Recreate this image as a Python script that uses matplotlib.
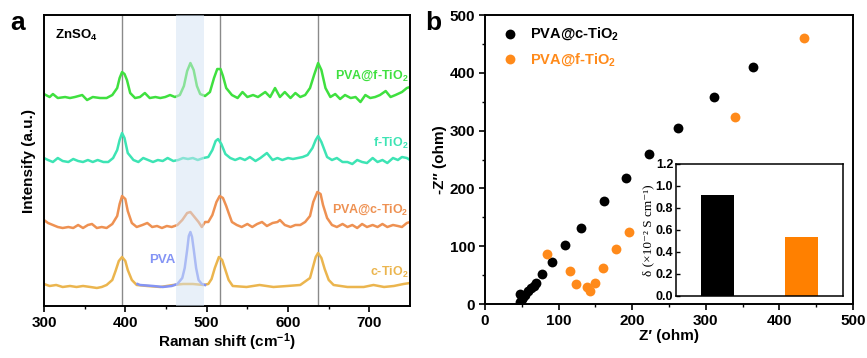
import matplotlib
matplotlib.use("Agg")
import matplotlib.pyplot as plt
import numpy as np

plt.rcParams['font.family'] = ['Liberation Sans', 'DejaVu Sans']
plt.rcParams['font.weight'] = 'bold'
plt.rcParams['mathtext.fontset'] = 'custom'
plt.rcParams['mathtext.rm'] = 'Liberation Sans:bold'
plt.rcParams['mathtext.bf'] = 'Liberation Sans:bold'
plt.rcParams['mathtext.it'] = 'Liberation Sans:bold'
plt.rcParams['mathtext.default'] = 'bf'

# ---------------- Panel a: Raman spectra (intensity in arbitrary units) ----------------
pvaf_shift = [300, 307, 311, 317, 326, 332, 338, 347, 353, 360, 369, 377, 384, 390, 393, 396, 399, 402,
              406, 412, 418, 424, 430, 437, 443, 449, 455, 461, 467, 472, 476, 480, 484, 488, 492, 498,
              504, 509, 513, 517, 520, 524, 531, 538, 544, 550, 557, 563, 572, 578, 584, 590, 596, 603, 609,
              615, 621, 627, 632, 637, 641, 646, 652, 658, 664, 670, 677, 683, 689, 695, 701, 707, 713,
              720, 726, 732, 740, 746, 750]
pvaf_int = [212, 209, 212, 208, 209, 208, 209, 211, 206, 209, 208, 208, 211, 218, 228, 234, 232, 226,
            213, 208, 209, 213, 208, 209, 208, 209, 211, 209, 211, 220, 235, 243, 236, 220, 212, 210,
            214, 228, 237, 237, 230, 218, 211, 208, 214, 209, 211, 209, 214, 209, 218, 209, 214, 208, 213,
            209, 211, 218, 231, 243, 236, 218, 209, 212, 207, 211, 208, 209, 204, 211, 208, 209, 211,
            215, 209, 211, 214, 218, 219]

f_shift = [300, 305, 311, 317, 323, 330, 336, 342, 348, 354, 360, 366, 373, 379, 385, 390, 393, 396, 399,
           403, 410, 416, 422, 428, 434, 440, 446, 452, 459, 465, 471, 477, 483, 489, 496, 502, 507,
           511, 514, 518, 523, 529, 535, 541, 547, 553, 560, 566, 574, 581, 587, 593, 600, 606, 612, 618,
           624, 630, 634, 637, 641, 648, 654, 660, 667, 673, 679, 685, 691, 697, 704, 710, 716, 722, 729,
           735, 740, 746, 750]
f_int = [148, 146, 144, 148, 145, 144, 147, 145, 144, 146, 144, 146, 144, 144, 148, 156, 166, 173, 168,
         153, 146, 144, 148, 146, 144, 146, 145, 148, 145, 146, 148, 147, 148, 146, 148, 149, 156,
         165, 167, 162, 152, 148, 146, 148, 146, 149, 145, 148, 153, 146, 148, 146, 148, 147, 148, 149,
         151, 158, 166, 170, 164, 149, 146, 148, 144, 144, 142, 146, 144, 143, 148, 144, 146, 143, 148,
         146, 149, 148, 146]

pvac_shift = [300, 305, 311, 317, 323, 330, 336, 342, 348, 354, 359, 365, 371, 377, 384, 390, 393, 396, 400,
              403, 408, 414, 421, 427, 433, 439, 445, 451, 457, 464, 470, 476, 480, 484, 490, 494, 498,
              502, 507, 512, 516, 520, 524, 527, 531, 537, 543, 550, 556, 562, 568, 574, 581, 587, 590, 596,
              603, 609, 615, 621, 627, 631, 636, 640, 643, 648, 654, 660, 667, 673, 679, 685, 691, 697,
              704, 710, 716, 722, 729, 735, 740, 746, 750]
pvac_int = [86, 83, 81, 79, 78, 79, 78, 81, 78, 81, 82, 78, 79, 78, 82, 90, 102, 110, 107,
            95, 83, 79, 81, 83, 79, 80, 78, 80, 79, 81, 86, 93, 94, 90, 84, 79, 84,
            84, 91, 104, 110, 108, 100, 93, 84, 81, 79, 82, 79, 82, 84, 80, 83, 84, 86, 81,
            79, 81, 81, 84, 90, 104, 114, 112, 101, 88, 81, 79, 82, 79, 81, 78, 82, 79,
            81, 79, 82, 79, 81, 80, 79, 83, 84]

c_shift = [300, 307, 315, 323, 332, 340, 348, 357, 365, 371, 377, 384, 388, 392, 396, 400, 403, 408, 414,
           427, 443, 459, 471, 483, 496, 502, 506, 510, 515, 519, 523, 527, 532, 549, 565, 582, 599, 615,
           627, 631, 634, 637, 641, 645, 650, 656, 673, 693, 705, 718, 730, 742, 750]
c_int = [22, 20, 21, 19, 20, 19, 20, 19, 18, 19, 21, 26, 35, 45, 49, 45, 36, 26, 21,
         20, 19, 21, 22, 22, 21, 22, 27, 38, 49, 46, 36, 26, 20, 19, 21, 19, 20, 21,
         28, 40, 49, 53, 48, 37, 26, 21, 19, 19, 21, 19, 20, 22, 23]

pva_shift = [415, 418, 434, 446, 457, 464, 470, 473, 476, 478, 480, 482, 484, 487, 490, 494, 498]
pva_int = [22, 21, 20, 19, 20, 22, 28, 38, 56, 70, 74, 69, 57, 38, 26, 22, 21]

ref_lines = [396, 516, 637]
band = [462, 497]

# ---------------- Panel b: Nyquist plots ----------------
c_zre = [47, 48, 50, 52, 55, 58, 62, 66, 69, 77, 91, 109, 130, 161, 191, 223, 262, 311, 364]
c_zim = [18, 3, 8, 12, 16, 22, 27, 32, 36, 52, 73, 102, 132, 179, 218, 259, 305, 359, 410]
f_zre = [84, 116, 123, 138, 142, 150, 160, 178, 195, 340, 434]
f_zim = [87, 57, 35, 29, 22, 36, 62, 96, 124, 323, 461]

conductivity = [0.92, 0.54]

# ---------------- colours ----------------
green = '#3FE03F'
teal = '#3DE4B4'
orange_l = '#EE9152'
gold = '#EBB54E'
blue = '#8494F5'
orange = '#FF8A1A'

fig = plt.figure(figsize=(8.67, 3.58), dpi=100)

ax = fig.add_axes([0.0507, 0.1453, 0.4223, 0.8127])
for xv in ref_lines:
    ax.axvline(xv, color='#8a8a8a', lw=1.0, zorder=1)
lw = 1.8
ax.plot(c_shift, c_int, color=gold, lw=lw, zorder=2)
ax.plot(pvac_shift, pvac_int, color=orange_l, lw=lw, zorder=2)
ax.plot(f_shift, f_int, color=teal, lw=lw, zorder=2)
ax.plot(pvaf_shift, pvaf_int, color=green, lw=lw, zorder=2)
ax.plot(pva_shift, pva_int, color=blue, lw=lw, zorder=3)
ax.axvspan(band[0], band[1], color='#D3E3F4', alpha=0.5, lw=0, zorder=4)
ax.set_xlim(300, 750)
ax.set_ylim(0, 291)
ax.set_xticks([300, 400, 500, 600, 700])
ax.set_xticks([350, 450, 550, 650], minor=True)
ax.set_yticks([])
ax.tick_params(axis='x', which='major', direction='out', length=4, width=1.2, labelsize=11, pad=3)
ax.tick_params(axis='x', which='minor', direction='out', length=2.5, width=1.0)
for s in ax.spines.values():
    s.set_linewidth(1.4)
ax.set_xlabel('Raman shift (cm$^{-1}$)', fontsize=11, fontweight='bold', labelpad=1)
ax.set_ylabel('Intensify (a.u.)', fontsize=11, fontweight='bold', labelpad=6)
ax.text(0.03, 0.93, 'ZnSO$_4$', transform=ax.transAxes, fontsize=9.5, fontweight='bold',
        ha='left', va='center', color='black')
lbl_kw = dict(fontsize=9, fontweight='bold', ha='right', va='center')
ax.text(748, 230, 'PVA@f-TiO$_2$', color=green, **lbl_kw)
ax.text(748, 163, 'f-TiO$_2$', color=teal, **lbl_kw)
ax.text(748, 96, 'PVA@c-TiO$_2$', color=orange_l, **lbl_kw)
ax.text(748, 34, 'c-TiO$_2$', color=gold, **lbl_kw)
ax.text(445, 46, 'PVA', color=blue, fontsize=9.5, fontweight='bold', ha='center', va='center')

fig.text(0.012, 0.935, 'a', fontsize=19, fontweight='bold', ha='left', va='center')
fig.text(0.490, 0.935, 'b', fontsize=19, fontweight='bold', ha='left', va='center')

# ---------------- Panel b ----------------
bx = fig.add_axes([0.5594, 0.1508, 0.4245, 0.8073])
bx.scatter(c_zre, c_zim, s=50, color='black', lw=0, zorder=3, label='PVA@c-TiO$_2$')
bx.scatter(f_zre, f_zim, s=50, color=orange, lw=0, zorder=3, label='PVA@f-TiO$_2$')
bx.set_xlim(0, 500)
bx.set_ylim(0, 500)
bx.set_xticks(range(0, 501, 100))
bx.set_yticks(range(0, 501, 100))
bx.set_xticks(range(50, 500, 100), minor=True)
bx.set_yticks(range(50, 500, 100), minor=True)
bx.tick_params(which='major', direction='out', length=4, width=1.2, labelsize=11, pad=3)
bx.tick_params(which='minor', direction='out', length=2.5, width=1.0)
for s in bx.spines.values():
    s.set_linewidth(1.4)
bx.set_xlabel('Z\u2032 (ohm)', fontsize=11, fontweight='bold', labelpad=1)
bx.set_ylabel('-Z\u2033 (ohm)', fontsize=11, fontweight='bold', labelpad=2)
leg = bx.legend(loc='upper left', bbox_to_anchor=(0.0, 1.0), frameon=False,
                handletextpad=0.4, borderaxespad=0.4, borderpad=0.3, labelspacing=0.6,
                prop={'weight': 'bold', 'size': 10.5})
for t, c in zip(leg.get_texts(), ['black', orange]):
    t.set_color(c)

ix = fig.add_axes([0.7797, 0.1732, 0.1926, 0.3687])
ix.bar([0, 1], conductivity, width=0.4, color=['black', '#FF8000'])
ix.set_xlim(-0.5, 1.5)
ix.set_ylim(0, 1.2)
ix.set_xticks([])
ix.set_yticks(np.arange(0, 1.21, 0.2))
ix.set_yticklabels(['%.1f' % v for v in np.arange(0, 1.21, 0.2)])
ix.tick_params(axis='y', direction='in', length=3, width=1.0, labelsize=9, pad=2)
for s in ix.spines.values():
    s.set_linewidth(1.1)
ix.set_ylabel('\u03b4 (\u00d710\u207b\u00b2 S cm\u207b\u00b9)', fontsize=9.5, fontweight='normal',
              family=['Liberation Serif', 'DejaVu Serif'], labelpad=1)

fig.savefig('out.png', dpi=100)
